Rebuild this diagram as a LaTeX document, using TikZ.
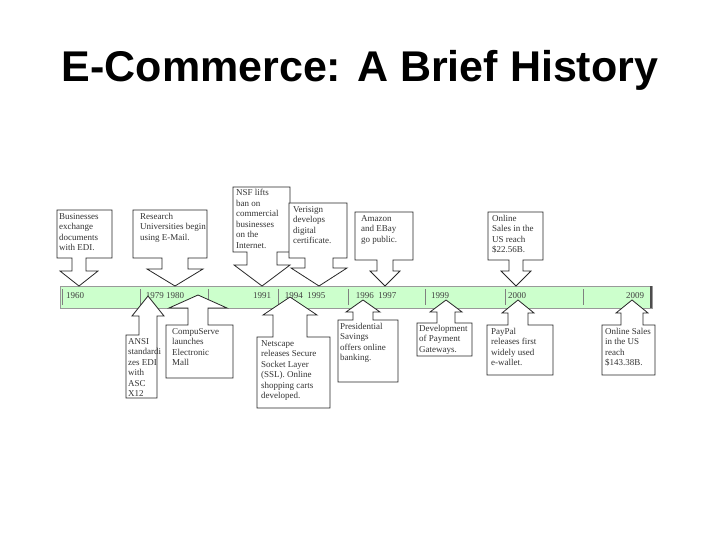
\documentclass[tikz,border=0pt]{standalone}
\usepackage{fontspec}
\setmainfont{Liberation Serif}
\newfontfamily\titlefont{Liberation Sans}
\begin{document}
\begin{tikzpicture}[x=1pt,y=-1pt,
  txt/.style={anchor=north west,inner sep=0pt,align=left,font=\fontsize{9}{10.5}\selectfont,text=black!80},
  yr/.style={font=\fontsize{9}{10}\selectfont,text=black!75},
  bx/.style={draw=black!85,fill=white,line width=0.8pt}]
\useasboundingbox (0,0) rectangle (720,540);
\node[font=\titlefont\bfseries\fontsize{43}{46}\selectfont] (title) at (360,70) {E-Commerce: A Brief History};
% bar
\draw[fill=green!20!white,draw=black!40] (60,286) rectangle (652,308);
\draw[line width=1.5pt,black!70] (651,286) -- (651,308);
\foreach \x in {62,140,208,278,348,425,505,583} \draw[black!50] (\x,289) -- (\x,305);
\node[yr] (y1) at (75,296) {1960};
\node[yr] (y2) at (165,296) {1979 1980};
\node[yr] (y3) at (262,296) {1991};
\node[yr] (y4) at (305,296) {1994\enspace 1995};
\node[yr] (y5) at (376,296) {1996\enspace 1997};
\node[yr] (y6) at (440,296) {1999};
\node[yr] (y7) at (517,296) {2000};
\node[yr] (y8) at (635,296) {2009};
% #1 x1 #2 ya (box edge away from bar) #3 x2 #4 yb (edge toward bar) #5 cx #6 stem half #7 head half #8 head base #9 tip
\newcommand\cbox[9]{\draw[bx] (#1,#2)--(#3,#2)--(#3,#4)--(#5+#6,#4)--(#5+#6,#8)--(#5+#7,#8)--(#5,#9)--(#5-#7,#8)--(#5-#6,#8)--(#5-#6,#4)--(#1,#4)--cycle;}
% top
\cbox{57}{210}{112}{258}{79}{7}{19}{271}{286}
\node[txt] (t1) at (59,213) {Businesses\\exchange\\documents\\with EDI.};
\cbox{133}{210}{207}{258}{175}{13}{28}{269}{286}
\node[txt] (t2) at (140,213) {Research\\Universities begin\\using E-Mail.};
\cbox{233}{187}{290}{252}{262}{15}{28}{265}{286}
\node[txt] (t3) at (236,189) {NSF lifts\\ban on\\commercial\\businesses\\on the\\Internet.};
\cbox{289}{203}{347}{258}{319}{14}{28}{268}{286}
\node[txt] (t4) at (293,206) {Verisign\\develops\\digital\\certificate.};
\cbox{355}{212}{413}{260}{385}{8}{15}{271}{286}
\node[txt] (t5) at (361,215) {Amazon\\and EBay\\go public.};
\cbox{488}{212}{543}{260}{516}{7}{15}{271}{286}
\node[txt] (t6) at (492,215) {Online\\Sales in the\\US reach\\\$22.56B.};
% bottom
\cbox{126}{398}{157}{335}{148}{9}{16}{316}{296}
\node[txt] (b1) at (128,338) {ANSI\\standardi\\zes EDI\\with\\ASC\\X12};
\cbox{166}{378}{233}{325}{198}{10}{29}{308}{295}
\node[txt] (b2) at (172,328) {CompuServe\\launches\\Electronic\\Mall};
\cbox{257}{408}{330}{337}{290}{17}{27}{315}{297}
\node[txt] (b3) at (261,340) {Netscape\\releases Secure\\Socket Layer\\(SSL). Online\\shopping carts\\developed.};
\cbox{338}{382}{398}{320}{363}{10}{17}{312}{300}
\node[txt] (b4) at (340,323) {Presidential\\Savings\\offers online\\banking.};
\cbox{417}{356}{472}{323}{446}{9}{16}{312}{300}
\node[txt] (b5) at (419,325) {Development\\of Payment\\Gateways.};
\cbox{487}{375}{553}{325}{518}{10}{16}{313}{300}
\node[txt] (b6) at (491,328) {PayPal\\releases first\\widely used\\e-wallet.};
\cbox{602}{375}{655}{325}{632}{11}{16}{313}{300}
\node[txt] (b7) at (605,328) {Online Sales\\in the US\\reach\\\$143.38B.};
\end{tikzpicture}
\end{document}
